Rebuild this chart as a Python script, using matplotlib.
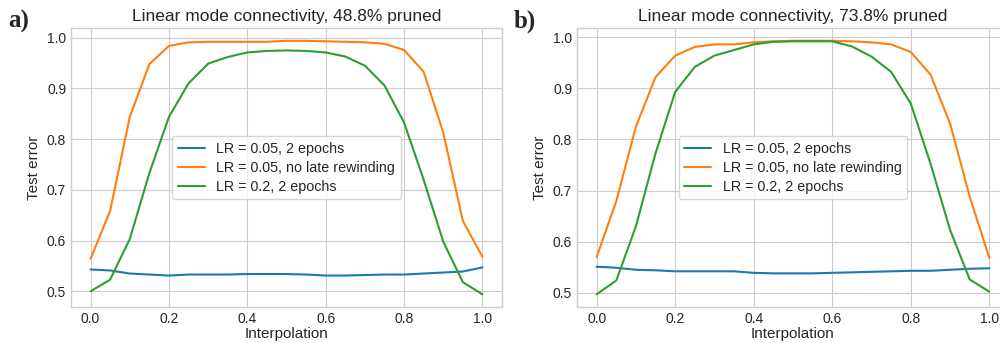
import matplotlib
matplotlib.use("Agg")
import matplotlib.pyplot as plt
import numpy as np

plt.style.use("seaborn-v0_8-whitegrid")

interp = np.linspace(0, 1, 21)

# a) 48.8% pruned
a_blue = [0.543, 0.541, 0.535, 0.533, 0.531, 0.533, 0.533, 0.533, 0.534, 0.534, 0.534,
          0.533, 0.531, 0.531, 0.532, 0.533, 0.533, 0.535, 0.537, 0.539, 0.547]
a_orange = [0.564, 0.659, 0.844, 0.948, 0.984, 0.991, 0.992, 0.992, 0.992, 0.992, 0.994,
            0.994, 0.993, 0.992, 0.991, 0.988, 0.976, 0.933, 0.813, 0.639, 0.568]
a_green = [0.500, 0.523, 0.603, 0.733, 0.844, 0.910, 0.949, 0.962, 0.971, 0.974, 0.975,
           0.974, 0.971, 0.963, 0.945, 0.906, 0.833, 0.720, 0.598, 0.518, 0.494]

# b) 73.8% pruned
b_blue = [0.551, 0.549, 0.545, 0.544, 0.542, 0.542, 0.542, 0.542, 0.539, 0.538, 0.538,
          0.538, 0.539, 0.540, 0.541, 0.542, 0.543, 0.543, 0.545, 0.547, 0.548]
b_orange = [0.570, 0.679, 0.825, 0.922, 0.964, 0.981, 0.986, 0.986, 0.990, 0.992, 0.993,
            0.993, 0.993, 0.992, 0.990, 0.986, 0.971, 0.927, 0.831, 0.688, 0.568]
b_green = [0.497, 0.524, 0.630, 0.773, 0.893, 0.942, 0.964, 0.975, 0.986, 0.991, 0.992,
           0.992, 0.992, 0.982, 0.962, 0.932, 0.870, 0.753, 0.623, 0.526, 0.502]

labels = ["LR = 0.05, 2 epochs", "LR = 0.05, no late rewinding", "LR = 0.2, 2 epochs"]
colors = ["#1f77b4", "#ff7f0e", "#2ca02c"]

panels = [
    ("a)", "Linear mode connectivity, 48.8% pruned", [a_blue, a_orange, a_green]),
    ("b)", "Linear mode connectivity, 73.8% pruned", [b_blue, b_orange, b_green]),
]

fig = plt.figure(figsize=(10, 3.43), dpi=100)
positions = [[0.071, 0.105, 0.431, 0.813], [0.577, 0.105, 0.432, 0.813]]

for (tag, title, series), pos in zip(panels, positions):
    ax = fig.add_axes(pos)
    for ys, lab, c in zip(series, labels, colors):
        ax.plot(interp, ys, color=c, label=lab, linewidth=1.5)
    ax.set_title(title, fontsize=12.5, pad=5)
    ax.set_xlabel("Interpolation", fontsize=11, labelpad=1)
    ax.set_ylabel("Test error", fontsize=11)
    ax.set_xticks([0.0, 0.2, 0.4, 0.6, 0.8, 1.0])
    ax.set_yticks([0.5, 0.6, 0.7, 0.8, 0.9, 1.0])
    ax.tick_params(labelsize=10)
    ax.legend(loc="center", frameon=True, fontsize=10.3, labelspacing=0.35,
              handlelength=1.9)
    fig.text(pos[0] - 0.063, 0.937, tag, fontsize=18, fontweight="bold",
             family="Liberation Serif", va="center")

fig.savefig("out.png", dpi=100)
